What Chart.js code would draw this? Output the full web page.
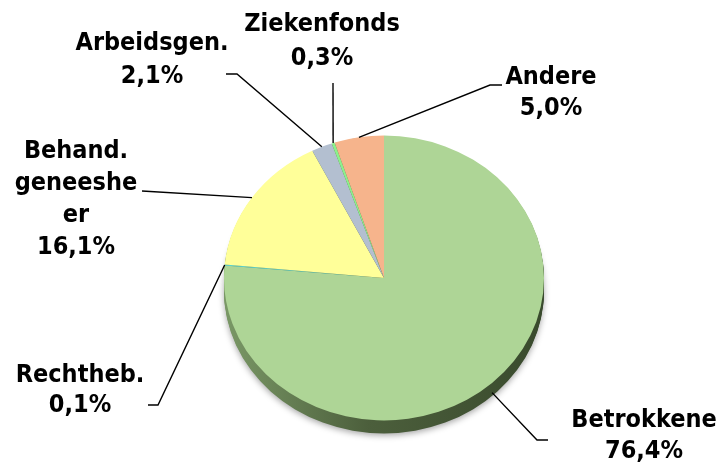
<!DOCTYPE html>
<html><head><meta charset="utf-8">
<script src="https://cdn.jsdelivr.net/npm/chart.js@4"></script>
<style>html,body{margin:0;padding:0;background:#fff;}canvas{display:block;}</style>
</head><body>
<canvas id="c" width="722" height="468"></canvas>
<script>
// ---- data ----
const categories = ['Betrokkene', 'Rechtheb.', 'Behand. geneesheer', 'Arbeidsgen.', 'Ziekenfonds', 'Andere'];
const values = [76.4, 0.1, 16.1, 2.1, 0.3, 5.0];
const labelLines = [['Betrokkene'], ['Rechtheb.'], ['Behand.', 'geneeshe', 'er'], ['Arbeidsgen.'], ['Ziekenfonds'], ['Andere']];

// ---- styles ----
const colors = ['#AED596', '#55D6D6', '#FFFF99', '#B3BFD0', '#8CF08C', '#F6B48C'];
const SQUASH = 0.89;
const DEPTH = 13;
// label placement: text centre x, first line centre y, line gap, leader elbow and end
const labelPos = [
  {x: 644, y: 420, gap: 31, elbow: [537, 440], end: [548, 440]},
  {x: 80,  y: 375, gap: 30, elbow: [158, 405], end: [148, 405]},
  {x: 76,  y: 151, gap: 32, elbow: null,       end: [142, 191]},
  {x: 152, y: 43,  gap: 33, elbow: [237, 74],  end: [226, 74]},
  {x: 322, y: 24,  gap: 34, elbow: null,       end: [333, 83]},
  {x: 551, y: 77,  gap: 31, elbow: [490, 85],  end: [502, 85]}
];
const FONT = 'bold 25px "DejaVu Sans Condensed", "DejaVu Sans", sans-serif';

function fmt(v){ return v.toFixed(1).replace('.', ',') + '%'; }

const tilt = {
  id: 'tilt',
  beforeDatasetsDraw(chart){
    const ctx = chart.ctx;
    const arcs = chart.getDatasetMeta(0).data;
    const cx = arcs[0].x, cy = arcs[0].y, r = arcs[0].outerRadius;
    ctx.save();
    ctx.translate(cx, cy); ctx.scale(1, SQUASH); ctx.translate(-cx, -cy);
    // side (extrusion)
    const g = ctx.createLinearGradient(cx - r, 0, cx + r, 0);
    g.addColorStop(0, '#7a9866');
    g.addColorStop(0.45, '#4c5f3c');
    g.addColorStop(1, '#394a2d');
    for (let d = DEPTH; d >= 1; d--) {
      ctx.save();
      if (d === DEPTH) { ctx.shadowColor = 'rgba(0,0,0,0.35)'; ctx.shadowBlur = 6; ctx.shadowOffsetY = 2; }
      const off = d / SQUASH;
      arcs.forEach(a => {
        ctx.beginPath();
        ctx.moveTo(cx, cy + off);
        ctx.arc(cx, cy + off, r, a.startAngle, a.endAngle);
        ctx.closePath();
        ctx.fillStyle = g;
        ctx.fill();
      });
      ctx.restore();
    }
    // transform stays active for the dataset drawing
  },
  afterDatasetsDraw(chart){
    chart.ctx.restore();
  },
  afterDraw(chart){
    const ctx = chart.ctx;
    const arcs = chart.getDatasetMeta(0).data;
    ctx.save();
    ctx.strokeStyle = '#000';
    ctx.lineWidth = 1.4;
    ctx.font = FONT;
    ctx.fillStyle = '#000';
    ctx.textAlign = 'center';
    ctx.textBaseline = 'middle';
    arcs.forEach((a, i) => {
      const mid = (a.startAngle + a.endAngle) / 2;
      const s = Math.sin(mid);
      const ax = a.x + a.outerRadius * Math.cos(mid);
      const ay = a.y + a.outerRadius * s * SQUASH + (s > 0 ? DEPTH * s : 0);
      const p = labelPos[i];
      ctx.beginPath();
      ctx.moveTo(ax, ay);
      if (p.elbow) ctx.lineTo(p.elbow[0], p.elbow[1]);
      ctx.lineTo(p.end[0], p.end[1]);
      ctx.stroke();
      const lines = labelLines[i].concat([fmt(values[i])]);
      lines.forEach((t, k) => ctx.fillText(t, p.x, p.y + k * p.gap));
    });
    ctx.restore();
  }
};

new Chart(document.getElementById('c'), {
  type: 'pie',
  data: {
    labels: categories,
    datasets: [{ data: values, backgroundColor: colors, borderWidth: 0, hoverOffset: 0 }]
  },
  options: {
    responsive: false,
    animation: false,
    layout: { padding: { left: 224, right: 178, top: 118, bottom: 30 } },
    plugins: { legend: { display: false }, tooltip: { enabled: false } },
    events: []
  },
  plugins: [tilt]
});
</script>
</body></html>
